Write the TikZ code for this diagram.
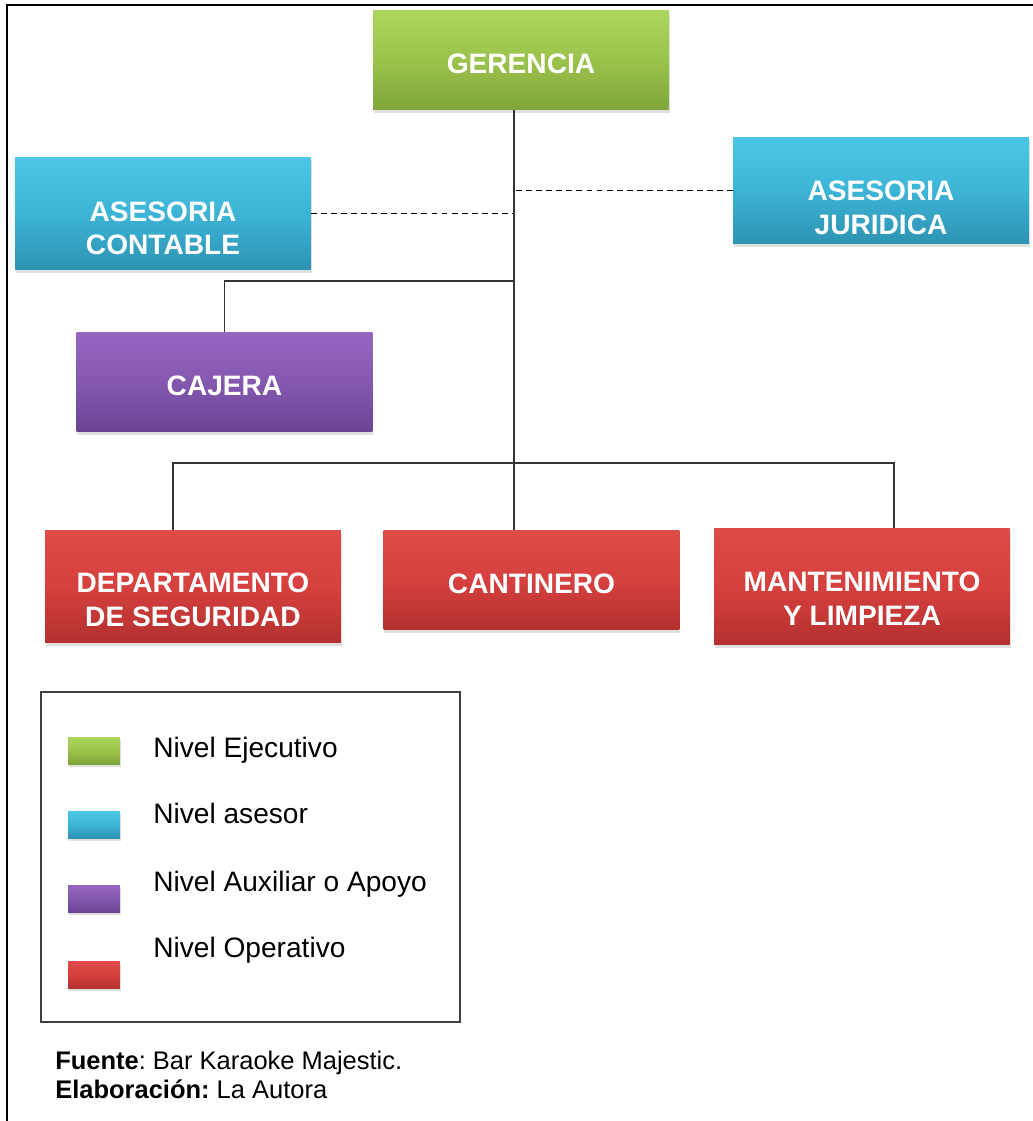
\documentclass[tikz,border=0pt]{standalone}
\usepackage{fontspec}
\setmainfont{Liberation Sans}
\usetikzlibrary{positioning,shadows}
\frenchspacing

\definecolor{verdeA}{HTML}{ADD65E}
\definecolor{verdeM}{HTML}{9BC34B}
\definecolor{verdeB}{HTML}{7FA53A}
\definecolor{azulA}{HTML}{4DC6E6}
\definecolor{azulM}{HTML}{3CB4D6}
\definecolor{azulB}{HTML}{2D93B2}
\definecolor{moradoA}{HTML}{9567C2}
\definecolor{moradoM}{HTML}{8458B0}
\definecolor{moradoB}{HTML}{6A4393}
\definecolor{rojoA}{HTML}{DE4B48}
\definecolor{rojoM}{HTML}{D6403E}
\definecolor{rojoB}{HTML}{B3302F}

\begin{document}
\begin{tikzpicture}[x=0.02cm, y=-0.02cm,
    caja/.style={rectangle, inner sep=0pt,
        drop shadow={shadow xshift=0.5pt, shadow yshift=-1.8pt, opacity=0.25}},
    cargo/.style={caja, minimum width=5.92cm},
    ejecutivo/.style={top color=verdeA, bottom color=verdeB, middle color=verdeM},
    asesor/.style={top color=azulA, bottom color=azulB, middle color=azulM},
    auxiliar/.style={top color=moradoA, bottom color=moradoB, middle color=moradoM},
    operativo/.style={top color=rojoA, bottom color=rojoB, middle color=rojoM},
    rotulo/.style={text=white, font=\fontsize{16}{19}\selectfont\bfseries, align=center},
    muestra/.style={caja, minimum width=1.04cm, minimum height=0.54cm},
    nivel/.style={anchor=base west, inner sep=0pt, font=\fontsize{16}{19}\selectfont},
    linea/.style={draw=black!80, line width=1.1pt},
    punteada/.style={draw=black, line width=1.1pt, dash pattern=on 3.4pt off 2.3pt}]
    \useasboundingbox (0,0) rectangle (1033,1121);
    % Frame
    \draw [line width=1.5pt] (1033,5) -- (7,5) -- (7,1121);

    % Nodes
    \node [cargo, ejecutivo, minimum height=2cm,
        label={[rotulo, yshift=-0.08cm]center:GERENCIA}] (gerencia) at (521,60) {};
    \node [cargo, asesor, minimum height=2.26cm,
        label={[rotulo, yshift=-0.3cm]center:ASESORIA\\CONTABLE}] (contable) at (163,213.5) {};
    \node [cargo, asesor, minimum height=2.14cm,
        label={[rotulo, yshift=-0.35cm]center:ASESORIA\\JURIDICA}] (juridica) at (881,190.5) {};
    \node [cargo, auxiliar, minimum height=2cm,
        label={[rotulo, yshift=-0.08cm]center:CAJERA}] (cajera) at (224.5,382) {};
    \node [cargo, operativo, minimum height=2.26cm,
        label={[rotulo, yshift=-0.27cm]center:DEPARTAMENTO\\DE SEGURIDAD}] (seguridad) at (193,586.5) {};
    \node [cargo, operativo, minimum height=2cm,
        label={[rotulo, yshift=-0.08cm]center:CANTINERO}] (cantinero) at (531.5,580) {};
    \node [cargo, operativo, minimum height=2.34cm,
        label={[rotulo, yshift=-0.24cm]center:MANTENIMIENTO\\Y LIMPIEZA}] (limpieza) at (862,586.5) {};

    % Lines
    \coordinate (tronco) at (514,0);
    \coordinate (rama) at (514,281);
    \coordinate (izq) at (173,463);
    \coordinate (der) at (894,463);
    \draw [linea] (gerencia.south -| tronco) -- (cantinero.north -| tronco);
    \draw [punteada] (contable.east) -- (contable.east -| tronco);
    \draw [punteada] (juridica.west) -- (juridica.west -| tronco);
    \draw [linea] (rama) -| (cajera.north);
    \draw [linea] (seguridad.north -| izq) -- (izq) -- (der) -- (limpieza.north -| der);

    % Legend
    \node [draw=black!75, line width=1.1pt, minimum width=8.38cm, minimum height=6.6cm,
        inner sep=0pt] (leyenda) at (250.5,857) {};
    \node [muestra, ejecutivo] (mEjecutivo) at (94,750.5) {};
    \node [muestra, asesor] (mAsesor) at (94,824.5) {};
    \node [muestra, auxiliar] (mAuxiliar) at (94,898.5) {};
    \node [muestra, operativo] (mOperativo) at (94,974.5) {};
    \node [nivel] (tEjecutivo) at (153,757) {Nivel Ejecutivo};
    \node [nivel] (tAsesor) at (153,823) {Nivel asesor};
    \node [nivel] (tAuxiliar) at (153,891) {Nivel Auxiliar o Apoyo};
    \node [nivel] (tOperativo) at (153,957) {Nivel Operativo};

    % Source
    \node [nivel, font=\fontsize{14.5}{17}\selectfont] (fuente) at (55,1069)
        {\textbf{Fuente}: Bar Karaoke Majestic.};
    \node [nivel, font=\fontsize{14.5}{17}\selectfont] (autora) at (55,1098)
        {\textbf{Elaboración:} La Autora};
\end{tikzpicture}
\end{document}
